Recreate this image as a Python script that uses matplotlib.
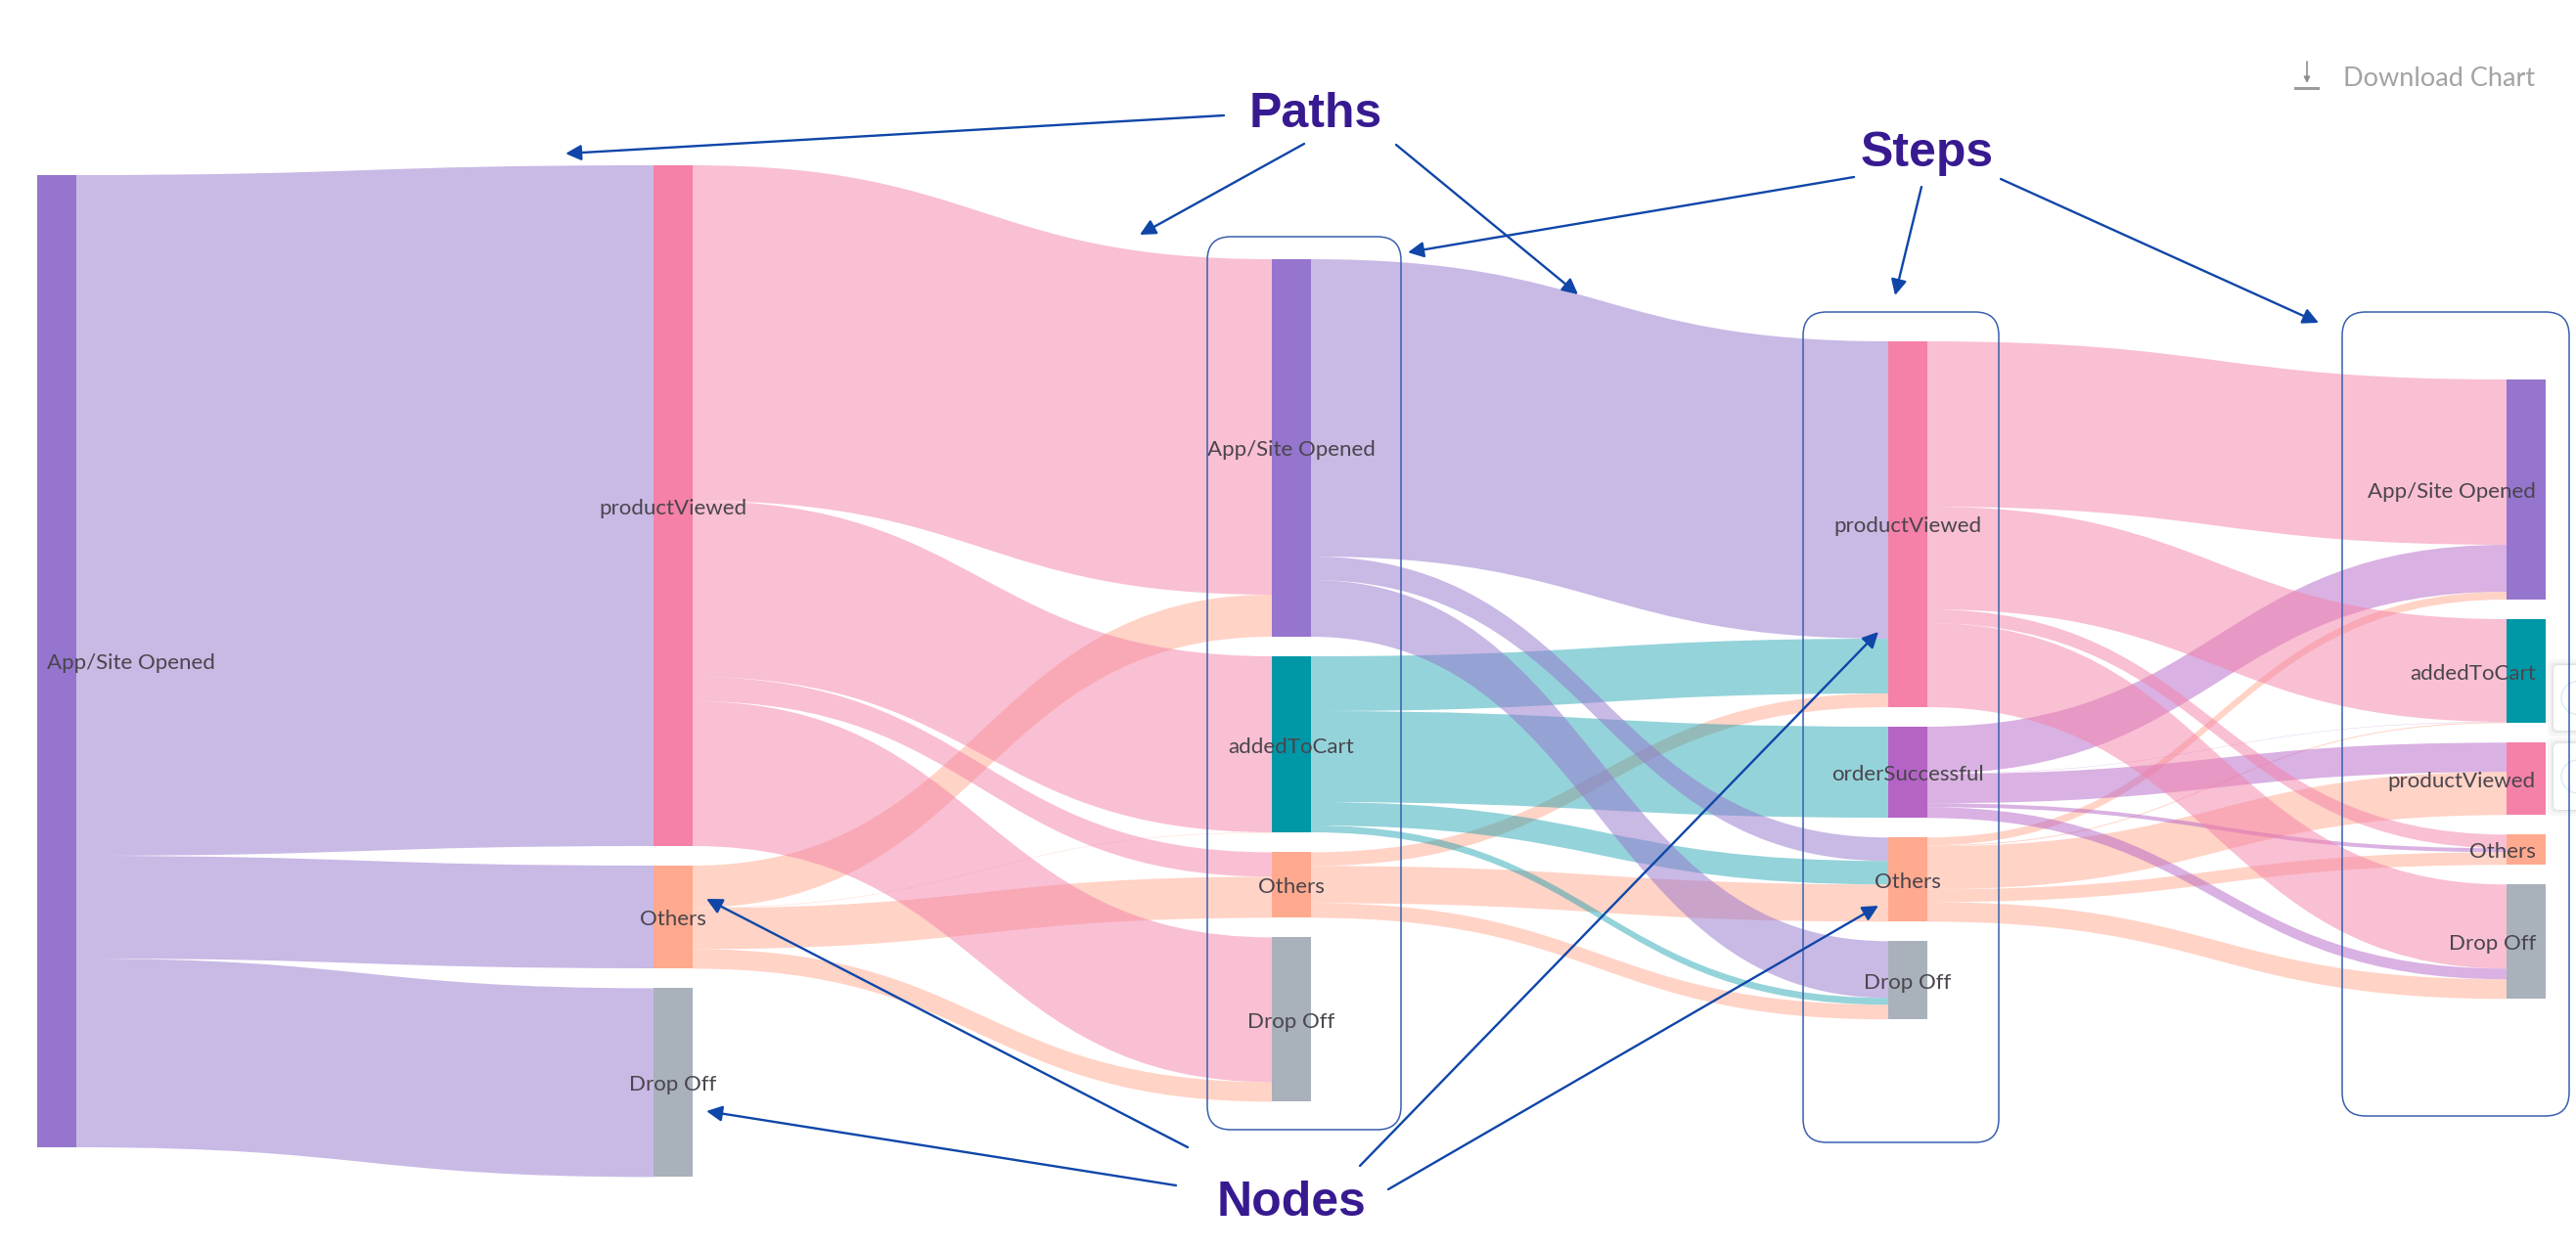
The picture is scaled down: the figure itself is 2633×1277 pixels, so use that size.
import matplotlib
matplotlib.use("Agg")
import matplotlib.pyplot as plt
from matplotlib.patches import FancyArrowPatch, FancyBboxPatch, PathPatch, Rectangle, Circle
from matplotlib.path import Path as MplPath

# nodes per step, top to bottom
step_nodes = [
    ["App/Site Opened"],
    ["productViewed", "Others", "Drop Off"],
    ["App/Site Opened", "addedToCart", "Others", "Drop Off"],
    ["productViewed", "orderSuccessful", "Others", "Drop Off"],
    ["App/Site Opened", "addedToCart", "productViewed", "Others", "Drop Off"],
]

# flows between steps: (source index, target index, users)
flows_0_1 = [(0, 0, 696), (0, 1, 105), (0, 2, 193)]
flows_1_2 = [
    (0, 0, 343), (0, 1, 180), (0, 2, 25), (0, 3, 148),
    (1, 0, 43), (1, 1, 0.4), (1, 2, 42), (1, 3, 20),
]
flows_2_3 = [
    (0, 0, 304), (0, 2, 24), (0, 3, 58),
    (1, 0, 56), (1, 1, 93), (1, 2, 24), (1, 3, 7),
    (2, 0, 14), (2, 2, 38), (2, 3, 15),
]
flows_3_4 = [
    (0, 0, 169), (0, 1, 105), (0, 3, 14), (0, 4, 86),
    (1, 0, 48), (1, 1, 0.3), (1, 2, 30), (1, 3, 4), (1, 4, 11),
    (2, 0, 8), (2, 1, 1), (2, 2, 44), (2, 3, 13), (2, 4, 20),
]
step_flows = [flows_0_1, flows_1_2, flows_2_3, flows_3_4]

node_colors = {
    "App/Site Opened": "#9575CD",
    "productViewed": "#F580A8",
    "addedToCart": "#0097A7",
    "orderSuccessful": "#B564C6",
    "Others": "#FFA98E",
    "Drop Off": "#A9B1BB",
}
link_alpha = {"addedToCart": 0.42}

# layout, in figure pixels
WIDTH, HEIGHT = 2633, 1277
step_left = [38, 668, 1300, 1930, 2562]
step_top = [179, 169, 265, 349, 388]
NODE_W = 40
NODE_GAP = 20

LABEL_COLOR = "#4A454D"
ARROW_COLOR = "#0F46A8"
BOX_COLOR = "#3A5FAE"
TITLE_COLOR = "#371A90"

plt.rcParams["font.family"] = ["Lato", "DejaVu Sans"]

fig = plt.figure(figsize=(WIDTH / 100, HEIGHT / 100), dpi=100)
ax = fig.add_axes([0, 0, 1, 1])
ax.set_xlim(0, WIDTH)
ax.set_ylim(HEIGHT, 0)
ax.axis("off")


def node_sizes(step):
    n = len(step_nodes[step])
    incoming = [0.0] * n
    outgoing = [0.0] * n
    if step < len(step_flows):
        for s, _, v in step_flows[step]:
            outgoing[s] += v
    if step > 0:
        for _, t, v in step_flows[step - 1]:
            incoming[t] += v
    return [max(a, b) for a, b in zip(incoming, outgoing)]


# stack the nodes
node_tops = []
node_heights = []
for step in range(len(step_nodes)):
    heights = node_sizes(step)
    tops = []
    y = step_top[step]
    for h in heights:
        tops.append(y)
        y += h + NODE_GAP
    node_tops.append(tops)
    node_heights.append(heights)

# links, each one takes its share of the node on both ends
for step, flows in enumerate(step_flows):
    out_pos = list(node_tops[step])
    in_pos = list(node_tops[step + 1])
    x0 = step_left[step] + NODE_W
    x1 = step_left[step + 1]
    xm = (x0 + x1) / 2
    placed = {}
    for s, t, v in sorted(flows, key=lambda f: (f[0], f[1])):
        placed[(s, t)] = out_pos[s]
        out_pos[s] += v
    for s, t, v in sorted(flows, key=lambda f: (f[1], f[0])):
        y0 = placed[(s, t)]
        y1 = in_pos[t]
        in_pos[t] += v
        verts = [(x0, y0), (xm, y0), (xm, y1), (x1, y1),
                 (x1, y1 + v), (xm, y1 + v), (xm, y0 + v), (x0, y0 + v), (x0, y0)]
        codes = [MplPath.MOVETO, MplPath.CURVE4, MplPath.CURVE4, MplPath.CURVE4,
                 MplPath.LINETO, MplPath.CURVE4, MplPath.CURVE4, MplPath.CURVE4, MplPath.CLOSEPOLY]
        name = step_nodes[step][s]
        ax.add_patch(PathPatch(MplPath(verts, codes), facecolor=node_colors[name], edgecolor="none",
                               alpha=link_alpha.get(name, 0.5), zorder=2))

# nodes and labels
last = len(step_nodes) - 1
for step, names in enumerate(step_nodes):
    for name, top, h in zip(names, node_tops[step], node_heights[step]):
        ax.add_patch(Rectangle((step_left[step], top), NODE_W, h, facecolor=node_colors[name], edgecolor="none", zorder=3))
        if step == 0:
            lx, ha = step_left[step] + 10, "left"
        elif step == last:
            lx, ha = step_left[step] + 30, "right"
        else:
            lx, ha = step_left[step] + NODE_W / 2, "center"
        ax.text(lx, top + h / 2 + 2.5, name, ha=ha, va="center", fontsize=16, color=LABEL_COLOR, zorder=5)

# leftover page widgets peeking in at the right edge
for y0, y1 in [(680, 747), (760, 828)]:
    for grow, alpha in [(6, 0.03), (3, 0.04), (1, 0.05)]:
        ax.add_patch(FancyBboxPatch((2610 - grow, y0 - grow), 60, y1 - y0 + 2 * grow, boxstyle="round,pad=0,rounding_size=6",
                                    facecolor="#000000", edgecolor="none", alpha=alpha, zorder=1))
    ax.add_patch(FancyBboxPatch((2610, y0), 60, y1 - y0, boxstyle="round,pad=0,rounding_size=5",
                                facecolor="white", edgecolor="none", zorder=4))
    ax.add_patch(Circle((2635, (y0 + y1) / 2), 17, facecolor="none", edgecolor="#E3E6F2", linewidth=1, zorder=4))

# step boxes
for x0, y0, x1, y1 in [(1234, 242, 1432, 1155), (1843, 319, 2043, 1168), (2394, 319, 2626, 1141)]:
    ax.add_patch(FancyBboxPatch((x0, y0), x1 - x0, y1 - y0, boxstyle="round,pad=0,rounding_size=24",
                                facecolor="none", edgecolor=BOX_COLOR, linewidth=1.1, zorder=6))

# annotation arrows
arrows = [
    ((1251, 118), (578, 157)), ((1333, 147), (1165, 240)), ((1427, 148), (1613, 301)),
    ((1895, 181), (1439, 258)), ((1964, 191), (1937, 302)), ((2045, 183), (2370, 330)),
    ((1214, 1173), (722, 919)), ((1202, 1212), (722, 1136)),
    ((1390, 1192), (1920, 646)), ((1419, 1216), (1920, 926)),
]
for tail, tip in arrows:
    ax.add_patch(FancyArrowPatch(tail, tip, arrowstyle="-|>", mutation_scale=24, shrinkA=0, shrinkB=0,
                                 color=ARROW_COLOR, linewidth=1.7, zorder=7))

for label, x, y in [("Paths", 1345, 130), ("Steps", 1970, 170), ("Nodes", 1320, 1243)]:
    ax.text(x, y, label, ha="center", va="baseline", fontsize=36, fontweight="bold",
            family="Liberation Sans", color=TITLE_COLOR, zorder=8)

# download control
ax.text(2395, 80, "Download Chart", ha="left", va="center", fontsize=19.5, color="#A3A3A3")
ax.add_patch(FancyArrowPatch((2358, 63), (2358, 85), arrowstyle="-|>", mutation_scale=9, shrinkA=0, shrinkB=0,
                             color="#8F8F8F", linewidth=1.2))
ax.add_patch(Rectangle((2345, 89), 26, 2.5, facecolor="#9B9B9B", edgecolor="none"))

fig.savefig("out.png", dpi=100)
